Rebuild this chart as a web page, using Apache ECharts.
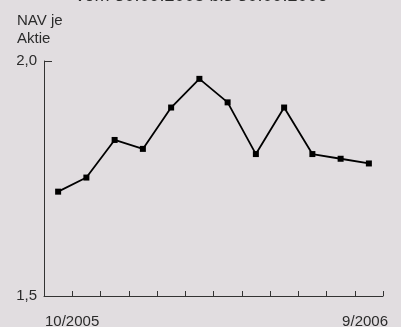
<!DOCTYPE html>
<html>
<head>
<meta charset="utf-8">
<script src="https://cdn.jsdelivr.net/npm/echarts@6/dist/echarts.min.js"></script>
<style>
  html, body { margin: 0; padding: 0; background: #e1dde0; }
  #chart { width: 401px; height: 327px; }
</style>
</head>
<body>
<div id="chart"></div>
<script>
// Monthly NAV per share, October 2005 to September 2006
const months = ['10/2005', '11/2005', '12/2005', '1/2006', '2/2006', '3/2006',
                '4/2006', '5/2006', '6/2006', '7/2006', '8/2006', '9/2006'];
const navValues = [1.722, 1.752, 1.832, 1.813, 1.901, 1.962,
                   1.912, 1.802, 1.901, 1.802, 1.792, 1.782];
const yTicks = [1.5, 2.0];
const titleText = 'vom 30.09.2005 bis 30.09.2006';
const unitLines = ['NAV je', 'Aktie'];

const textColor = '#2b2b2b';
const font = 'Liberation Sans, Arial, sans-serif';

const chart = echarts.init(document.getElementById('chart'), null, { renderer: 'canvas' });
chart.setOption({
  backgroundColor: '#e1dde0',
  animation: false,
  grid: { left: 44, right: 18, top: 61, bottom: 31 },
  graphic: [
    { type: 'text', x: 201.5, y: 5,
      style: { text: titleText, font: '18px ' + font, fill: textColor,
               align: 'center', verticalAlign: 'bottom' } },
    { type: 'text', x: 17, y: 12,
      style: { text: unitLines.join('\n'), font: '15px ' + font, fill: textColor, lineHeight: 18 } },
    { type: 'text', x: 45, y: 314,
      style: { text: months[0], font: '15px ' + font, fill: textColor } },
    { type: 'text', x: 388, y: 314,
      style: { text: months[months.length - 1], font: '15px ' + font, fill: textColor, align: 'right' } }
  ],
  xAxis: {
    type: 'category',
    data: months,
    boundaryGap: true,
    axisLine: { lineStyle: { color: '#333', width: 1 } },
    axisTick: { show: true, interval: 0, inside: true, length: 5, lineStyle: { color: '#333' } },
    axisLabel: { show: false, interval: 0 },
    splitLine: { show: false }
  },
  yAxis: {
    type: 'value',
    min: yTicks[0],
    max: yTicks[yTicks.length - 1],
    interval: yTicks[1] - yTicks[0],
    axisLine: { show: true, lineStyle: { color: '#333', width: 1 } },
    axisTick: { show: true, inside: true, length: 8, lineStyle: { color: '#333' } },
    axisLabel: {
      margin: 7,
      color: textColor,
      fontSize: 15,
      fontFamily: font,
      formatter: v => v.toFixed(1).replace('.', ',')
    },
    splitLine: { show: false }
  },
  series: [{
    type: 'line',
    data: navValues,
    symbol: 'rect',
    symbolSize: 6,
    lineStyle: { color: '#000', width: 1.8 },
    itemStyle: { color: '#000' }
  }]
});
</script>
</body>
</html>
